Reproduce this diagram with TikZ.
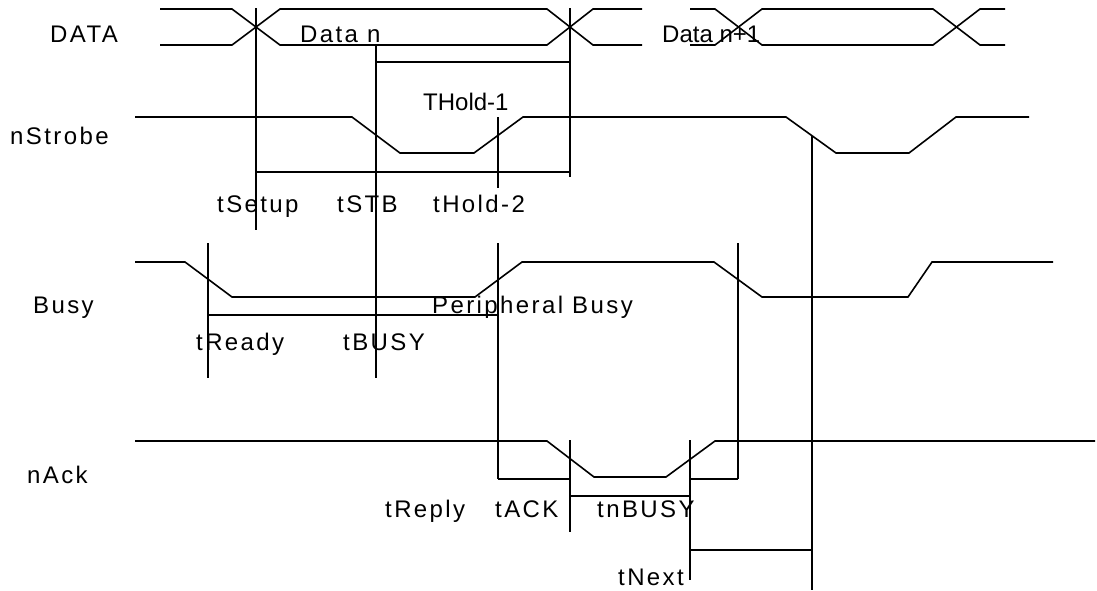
\documentclass[tikz,border=0pt]{standalone}
\usepackage{fontspec}
\setmainfont{Liberation Sans}
\newfontfamily\spacedfont[LetterSpace=10]{Liberation Sans}
\usetikzlibrary{positioning}
\tikzstyle{wave} = [line width=1.6pt, line join=miter]
\tikzstyle{guide} = [line width=1.6pt]
\tikzstyle{signame} = [anchor=base west, inner sep=0pt, font=\fontsize{24}{26}\spacedfont]
\tikzstyle{timing} = [anchor=base west, inner sep=0pt, font=\fontsize{24}{26}\spacedfont]
\tikzstyle{plain} = [anchor=base west, inner sep=0pt, font=\fontsize{24}{26}\selectfont]

\begin{document}
\begin{tikzpicture}[x=1pt, y=-1pt]
\useasboundingbox (0,0) rectangle (1097,590);

% signal names
\node (data) [signame] at (50,42) {DATA};
\node (strobe) [signame] at (10,144) {nStrobe};
\node (busy) [signame] at (33,313) {Busy};
\node (ack) [signame] at (27,483) {nAck};

% waveforms
\draw [wave] (160,9) -- (232,9) -- (280,45) -- (547,45) -- (593,9) -- (642,9);
\draw [wave] (160,45) -- (232,45) -- (280,9) -- (547,9) -- (593,45) -- (642,45);
\draw [wave] (690,9) -- (715,9) -- (762,45) -- (933,45) -- (980,9) -- (1005,9);
\draw [wave] (690,45) -- (715,45) -- (762,9) -- (933,9) -- (980,45) -- (1005,45);
\draw [wave] (135,117) -- (352,117) -- (400,153) -- (474,153) -- (523,117) -- (786,117) -- (836,153) -- (909,153) -- (956,117) -- (1029,117);
\draw [wave] (135,262) -- (185,262) -- (232,297) -- (475,297) -- (522,262) -- (714,262) -- (762,297) -- (908,297) -- (932,262) -- (1053,262);
\draw [wave] (135,441) -- (547,441) -- (594,477) -- (666,477) -- (715,441) -- (1095,441);

% timing guides
\coordinate (setupA) at (256,8);
\coordinate (setupB) at (256,230);
\coordinate (holdA) at (570,8);
\coordinate (holdB) at (570,177);
\coordinate (stbA) at (376,45);
\coordinate (stbB) at (376,378);
\coordinate (hold2A) at (498,117);
\coordinate (hold2B) at (498,188);
\coordinate (readyA) at (208,243);
\coordinate (readyB) at (208,378);
\coordinate (periA) at (498,243);
\coordinate (periB) at (498,479);
\coordinate (ackA) at (570,440);
\coordinate (ackB) at (570,532);
\coordinate (nbusyA) at (690,440);
\coordinate (nbusyB) at (690,580);
\coordinate (replyA) at (738,243);
\coordinate (replyB) at (738,479);
\coordinate (nextA) at (812,136);
\coordinate (nextB) at (812,590);

\draw [guide] (setupA) -- (setupB);
\draw [guide] (holdA) -- (holdB);
\draw [guide] (stbA) -- (stbB);
\draw [guide] (hold2A) -- (hold2B);
\draw [guide] (readyA) -- (readyB);
\draw [guide] (periA) -- (periB);
\draw [guide] (ackA) -- (ackB);
\draw [guide] (nbusyA) -- (nbusyB);
\draw [guide] (replyA) -- (replyB);
\draw [guide] (nextA) -- (nextB);

\draw [guide] (376,62) -- (570,62);
\draw [guide] (256,172) -- (570,172);
\draw [guide] (208,315) -- (498,315);
\draw [guide] (periB) -- (570,479);
\draw [guide] (570,496) -- (690,496);
\draw [guide] (690,479) -- (replyB);
\draw [guide] (690,550) -- (812,550);

% labels
\node (datan) [timing] at (300,42) {Data n};
\node (datan1) [plain] at (662,42) {Data n+1};
\node (thold1) [plain] at (423,110) {THold-1};
\node (tsetup) [timing] at (217,212) {tSetup};
\node (tstb) [timing] at (337,212) {tSTB};
\node (thold2) [timing] at (433,212) {tHold-2};
\node (peri) [timing] at (432,313) {Peripheral Busy};
\node (tready) [timing] at (196,350) {tReady};
\node (tbusy) [timing] at (343,350) {tBUSY};
\node (treply) [timing] at (385,517) {tReply};
\node (tack) [timing] at (495,517) {tACK};
\node (tnbusy) [timing] at (597,517) {tnBUSY};
\node (tnext) [timing] at (618,585) {tNext};

\end{tikzpicture}
\end{document}
